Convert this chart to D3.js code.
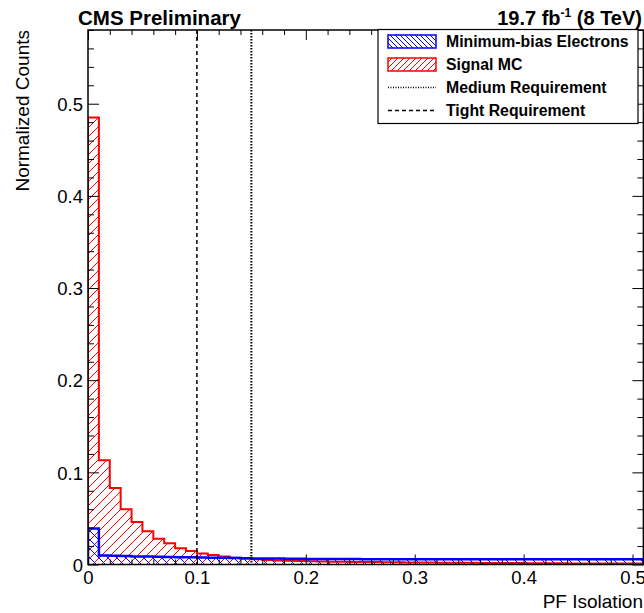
<!DOCTYPE html>
<html>
<head>
<meta charset="utf-8">
<script src="https://cdn.jsdelivr.net/npm/d3@7"></script>
<style>
  html, body { margin: 0; padding: 0; background: #fff; }
  svg { display: block; font-family: "Liberation Sans", Arial, Helvetica, sans-serif; }
</style>
</head>
<body>
<svg id="chart" width="644" height="613"></svg>
<script>
// ---------------- data ----------------
const binWidth = 0.01;
const binStart = 0.0;
// Signal MC (red, "////" hatch), normalized counts per 0.01 bin
const signalMC = [
  0.485, 0.113, 0.083, 0.060, 0.046, 0.036, 0.028, 0.023, 0.0176, 0.0146,
  0.0120, 0.0103, 0.0086, 0.0074, 0.0064, 0.0056, 0.0049, 0.0044, 0.0040, 0.0037,
  0.0035, 0.0033, 0.0031, 0.0029, 0.0028, 0.0027, 0.0026, 0.0025, 0.0024, 0.0023,
  0.0022, 0.0021, 0.0020, 0.0019, 0.0018, 0.0018, 0.0017, 0.0016, 0.0016, 0.0015,
  0.0014, 0.0014, 0.0013, 0.0013, 0.0012, 0.0012, 0.0011, 0.0011, 0.0010, 0.0010, 0.0010
];
// Minimum-bias Electrons (blue, "\\\\" hatch)
const minBiasElectrons = [
  0.039, 0.0098, 0.0094, 0.0091, 0.0088, 0.0086, 0.0084, 0.0082, 0.0080, 0.0078,
  0.0076, 0.0074, 0.0072, 0.0070, 0.0068, 0.0066, 0.0065, 0.0064, 0.0063, 0.0062,
  0.0061, 0.0060, 0.0060, 0.0059, 0.0059, 0.0058, 0.0058, 0.0058, 0.0057, 0.0057,
  0.0057, 0.0057, 0.0056, 0.0056, 0.0056, 0.0056, 0.0056, 0.0056, 0.0056, 0.0056,
  0.0056, 0.0056, 0.0056, 0.0056, 0.0056, 0.0056, 0.0056, 0.0056, 0.0056, 0.0056, 0.0056
];
const cutValues = { tight: 0.10, medium: 0.15 };
const xMajorTicks = [0, 0.1, 0.2, 0.3, 0.4, 0.5];
const xTickLabels = ["0", "0.1", "0.2", "0.3", "0.4", "0.5"];
const yMajorTicks = [0, 0.1, 0.2, 0.3, 0.4, 0.5];
const yTickLabels = ["0", "0.1", "0.2", "0.3", "0.4", "0.5"];
const minorStep = 0.02;
const xDomain = [0, 0.51];
const yDomain = [0, 0.58];
const legendEntries = [
  { label: "Minimum-bias Electrons", kind: "blue" },
  { label: "Signal MC", kind: "red" },
  { label: "Medium Requirement", kind: "dotted" },
  { label: "Tight Requirement", kind: "dashed" }
];

// ---------------- layout ----------------
const frame = { left: 88, right: 643.4, top: 30, bottom: 564.5 };
const svg = d3.select("#chart");

const x = d3.scaleLinear().domain(xDomain).range([frame.left, frame.right]);
const y = d3.scaleLinear().domain(yDomain).range([frame.bottom, frame.top]);

const defs = svg.append("defs");
function hatch(id, color, dir, spacing, sw) {
  const p = defs.append("pattern")
    .attr("id", id).attr("patternUnits", "userSpaceOnUse")
    .attr("width", spacing).attr("height", spacing);
  if (dir === "fwd") {
    p.append("path").attr("d", `M0,${spacing} L${spacing},0 M${-spacing/2},${spacing/2} L${spacing/2},${-spacing/2} M${spacing/2},${spacing*1.5} L${spacing*1.5},${spacing/2}`);
  } else {
    p.append("path").attr("d", `M0,0 L${spacing},${spacing} M${-spacing/2},${spacing/2} L${spacing/2},${spacing*1.5} M${spacing/2},${-spacing/2} L${spacing*1.5},${spacing/2}`);
  }
  p.select("path").attr("stroke", color).attr("stroke-width", sw).attr("fill", "none");
}
hatch("hatchRed", "#ff0000", "fwd", 9, 1);
hatch("hatchBlue", "#0000ff", "back", 9, 1);
hatch("hatchRedL", "#ff0000", "fwd", 6, 1);
hatch("hatchBlueL", "#0000ff", "back", 5, 1);

defs.append("clipPath").attr("id", "frameClip")
  .append("rect").attr("x", frame.left).attr("y", frame.top)
  .attr("width", frame.right - frame.left).attr("height", frame.bottom - frame.top);

// ---------------- histograms ----------------
function stepPath(values) {
  const pts = [[binStart, 0]];
  values.forEach((v, i) => {
    const lo = binStart + i * binWidth, hi = lo + binWidth;
    pts.push([lo, v], [hi, v]);
  });
  pts.push([binStart + values.length * binWidth, 0]);
  return d3.line().x(d => x(d[0])).y(d => y(d[1]))(pts);
}
const plot = svg.append("g").attr("clip-path", "url(#frameClip)");
function drawHist(values, fillId, color, sw) {
  plot.append("path").attr("d", stepPath(values) + "Z")
    .attr("fill", `url(#${fillId})`).attr("stroke", "none");
  plot.append("path").attr("d", stepPath(values))
    .attr("fill", "none").attr("stroke", color).attr("stroke-width", sw);
}
drawHist(signalMC, "hatchRed", "#ff0000", 2);
drawHist(minBiasElectrons, "hatchBlue", "#0000ff", 2.5);

// cut lines
plot.append("line")
  .attr("x1", x(cutValues.tight)).attr("x2", x(cutValues.tight))
  .attr("y1", frame.top).attr("y2", frame.bottom)
  .attr("stroke", "#000").attr("stroke-width", 1.5).attr("stroke-dasharray", "4,3");
plot.append("line")
  .attr("x1", x(cutValues.medium)).attr("x2", x(cutValues.medium))
  .attr("y1", frame.top).attr("y2", frame.bottom)
  .attr("stroke", "#000").attr("stroke-width", 2).attr("stroke-dasharray", "1.5,1.5");

// ---------------- axes ----------------
const xMinor = d3.range(0, xDomain[1] + 1e-9, minorStep).filter(v => !xMajorTicks.some(m => Math.abs(m - v) < 1e-9));
const yMinor = d3.range(0, yDomain[1] + 1e-9, minorStep).filter(v => !yMajorTicks.some(m => Math.abs(m - v) < 1e-9));

function axisG(axis, tx, ty) {
  const g = svg.append("g").attr("transform", `translate(${tx},${ty})`).call(axis);
  g.select(".domain").remove();
  g.selectAll(".tick line").attr("stroke", "#000").attr("stroke-width", 1);
  return g;
}
// bottom
const xb = axisG(d3.axisBottom(x).tickValues(xMajorTicks).tickSize(-10).tickPadding(0)
  .tickFormat((d, i) => xTickLabels[i]), 0, frame.bottom);
xb.selectAll(".tick text").attr("y", 19.5).attr("dy", null)
  .style("font-size", "18.5px").style("font-family", "Liberation Sans, Arial, sans-serif").attr("fill", "#000");
axisG(d3.axisBottom(x).tickValues(xMinor).tickSize(-5).tickFormat(""), 0, frame.bottom);
// top
axisG(d3.axisTop(x).tickValues(xMajorTicks).tickSize(-10).tickFormat(""), 0, frame.top);
axisG(d3.axisTop(x).tickValues(xMinor).tickSize(-5).tickFormat(""), 0, frame.top);
// left
const yl = axisG(d3.axisLeft(y).tickValues(yMajorTicks).tickSize(-11).tickPadding(0)
  .tickFormat((d, i) => yTickLabels[i]), frame.left, 0);
yl.selectAll(".tick text").attr("x", -5).attr("dy", "0.36em")
  .style("font-size", "18.5px").style("font-family", "Liberation Sans, Arial, sans-serif").attr("fill", "#000");
axisG(d3.axisLeft(y).tickValues(yMinor).tickSize(-6).tickFormat(""), frame.left, 0);
// right
axisG(d3.axisRight(y).tickValues(yMajorTicks).tickSize(-11).tickFormat(""), frame.right, 0);
axisG(d3.axisRight(y).tickValues(yMinor).tickSize(-6).tickFormat(""), frame.right, 0);

// frame
svg.append("rect").attr("x", frame.left).attr("y", frame.top)
  .attr("width", frame.right - frame.left).attr("height", frame.bottom - frame.top)
  .attr("fill", "none").attr("stroke", "#000").attr("stroke-width", 1.5);

// ---------------- titles ----------------
svg.append("text").attr("x", 78).attr("y", 25)
  .style("font-size", "20.5px").style("font-weight", "bold").text("CMS Preliminary");
const lumi = svg.append("text").attr("x", 642).attr("y", 25).attr("text-anchor", "end")
  .style("font-size", "20px").style("font-weight", "bold");
lumi.append("tspan").text("19.7 fb");
lumi.append("tspan").attr("dy", -8).style("font-size", "12px").text("-1");
lumi.append("tspan").attr("dy", 8).text(" (8 TeV)");

svg.append("text").attr("x", 643).attr("y", 608).attr("text-anchor", "end")
  .style("font-size", "19px").text("PF Isolation");
svg.append("text").attr("transform", "translate(29,30) rotate(-90)").attr("text-anchor", "end")
  .style("font-size", "19px").text("Normalized Counts");

// ---------------- legend ----------------
const leg = { x: 378, y: 29.5, w: 260, h: 94, rowY0: 41.5, rowStep: 23, boxX: 388, boxW: 48, boxH: 13, textX: 446 };
svg.append("rect").attr("x", leg.x).attr("y", leg.y).attr("width", leg.w).attr("height", leg.h)
  .attr("fill", "#fff").attr("stroke", "#000").attr("stroke-width", 1.2);
legendEntries.forEach((e, i) => {
  const cy = leg.rowY0 + i * leg.rowStep;
  if (e.kind === "blue" || e.kind === "red") {
    const col = e.kind === "blue" ? "#0000ff" : "#ff0000";
    svg.append("rect").attr("x", leg.boxX).attr("y", cy - leg.boxH / 2)
      .attr("width", leg.boxW).attr("height", leg.boxH)
      .attr("fill", `url(#${e.kind === "blue" ? "hatchBlueL" : "hatchRedL"})`)
      .attr("stroke", col).attr("stroke-width", 1.5);
  } else {
    svg.append("line").attr("x1", leg.boxX).attr("x2", leg.boxX + leg.boxW)
      .attr("y1", cy).attr("y2", cy).attr("stroke", "#000").attr("stroke-width", 1.5)
      .attr("stroke-dasharray", e.kind === "dotted" ? "1,1.5" : "4,3");
  }
  svg.append("text").attr("x", leg.textX).attr("y", cy).attr("dy", "0.36em")
    .style("font-size", "15.8px").style("font-weight", "bold").text(e.label);
});
</script>
</body>
</html>
